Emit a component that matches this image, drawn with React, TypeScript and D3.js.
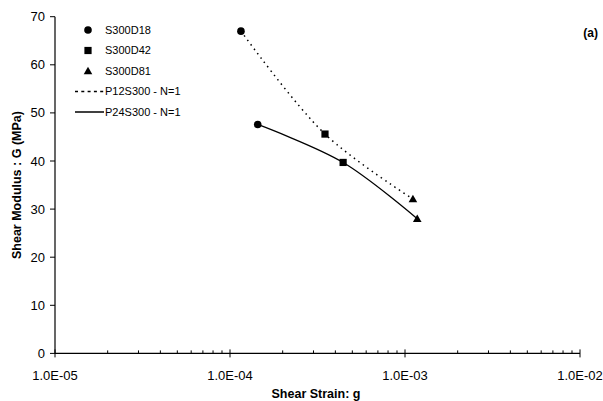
import React from "react";
import * as d3 from "d3";

// Shear strain (x) and shear modulus G in MPa (y)
const seriesNames = ["S300D18", "S300D42", "S300D81"];
const markerShapes = ["circle", "square", "triangle"];

const p12Strain = [1.155e-4, 3.49e-4, 1.11e-3];
const p12Modulus = [67.0, 45.6, 32.1];

const p24Strain = [1.44e-4, 4.43e-4, 1.175e-3];
const p24Modulus = [47.6, 39.7, 28.0];

const lineNames = ["P12S300 - N=1", "P24S300 - N=1"];

const xTickValues = [1e-5, 1e-4, 1e-3, 1e-2];
const xTickLabels = ["1.0E-05", "1.0E-04", "1.0E-03", "1.0E-02"];
const yTickValues = [0, 10, 20, 30, 40, 50, 60, 70];

const W = 603;
const H = 401;
const margin = { left: 55, right: 23, top: 16.7, bottom: 47.6 };

const font = "Liberation Sans, Arial, sans-serif";

function Marker({ shape, x, y }: { shape: string; x: number; y: number }) {
  if (shape === "circle") return <circle cx={x} cy={y} r={3.8} fill="#000" />;
  if (shape === "square")
    return <rect x={x - 3.6} y={y - 3.6} width={7.2} height={7.2} fill="#000" />;
  const s = 4.3;
  return (
    <path
      d={`M${x},${y - s} L${x + s},${y + s * 0.75} L${x - s},${y + s * 0.75} Z`}
      fill="#000"
    />
  );
}

export default function App() {
  const x = d3
    .scaleLog()
    .domain([1e-5, 1e-2])
    .range([margin.left, W - margin.right]);
  const y = d3
    .scaleLinear()
    .domain([0, 70])
    .range([H - margin.bottom, margin.top]);

  const line = d3
    .line<[number, number]>()
    .x((d) => x(d[0]))
    .y((d) => y(d[1]))
    .curve(d3.curveCatmullRom.alpha(0.5));

  const p12: [number, number][] = p12Strain.map((s, i) => [s, p12Modulus[i]]);
  const p24: [number, number][] = p24Strain.map((s, i) => [s, p24Modulus[i]]);

  const y0 = y(0);
  const minorTicks: number[] = [];
  for (let e = -5; e < -2; e++) {
    for (let k = 2; k <= 9; k++) minorTicks.push(k * Math.pow(10, e));
  }

  const legendX = 88;
  const legendRows = [30, 50.5, 71, 91.5, 112];

  return (
    <svg
      width={W}
      height={H}
      style={{ position: "absolute", left: 0, top: 0, background: "#fff" }}
      fontFamily={font}
    >
      {/* axes */}
      <line x1={margin.left} x2={margin.left} y1={y(70)} y2={y0} stroke="#000" strokeWidth={1.2} />
      <line x1={margin.left} x2={x(1e-2)} y1={y0} y2={y0} stroke="#000" strokeWidth={1.2} />

      {yTickValues.map((v) => (
        <g key={v}>
          <line x1={margin.left - 5} x2={margin.left} y1={y(v)} y2={y(v)} stroke="#000" />
          <text x={margin.left - 10} y={y(v)} dy="0.35em" textAnchor="end" fontSize={13}>
            {v}
          </text>
        </g>
      ))}

      {minorTicks.map((v) => (
        <line key={v} x1={x(v)} x2={x(v)} y1={y0 - 3} y2={y0} stroke="#000" />
      ))}
      {xTickValues.map((v, i) => (
        <g key={v}>
          <line x1={x(v)} x2={x(v)} y1={y0 - 4} y2={y0 + 4} stroke="#000" />
          <text x={x(v)} y={y0 + 26.5} textAnchor="middle" fontSize={13}>
            {xTickLabels[i]}
          </text>
        </g>
      ))}

      {/* axis titles */}
      <text x={316} y={397.5} textAnchor="middle" fontSize={12.5} fontWeight="bold">
        Shear Strain: g
      </text>
      <text
        transform={`translate(21,${(y(70) + y0) / 2}) rotate(-90)`}
        textAnchor="middle"
        fontSize={12.5}
        fontWeight="bold"
      >
        Shear Modulus : G (MPa)
      </text>
      <text x={598} y={37} textAnchor="end" fontSize={12} fontWeight="bold">
        (a)
      </text>

      {/* lines */}
      <path d={line(p12) || ""} fill="none" stroke="#000" strokeWidth={1.5} strokeDasharray="1.5,4" />
      <path d={line(p24) || ""} fill="none" stroke="#000" strokeWidth={1.3} />

      {/* markers */}
      {p12.map((d, i) => (
        <Marker key={"a" + i} shape={markerShapes[i]} x={x(d[0])} y={y(d[1])} />
      ))}
      {p24.map((d, i) => (
        <Marker key={"b" + i} shape={markerShapes[i]} x={x(d[0])} y={y(d[1])} />
      ))}

      {/* legend */}
      {seriesNames.map((n, i) => (
        <g key={n}>
          <Marker shape={markerShapes[i]} x={legendX} y={legendRows[i]} />
          <text x={105} y={legendRows[i]} dy="0.35em" fontSize={11}>
            {n}
          </text>
        </g>
      ))}
      {lineNames.map((n, i) => (
        <g key={n}>
          <line
            x1={75}
            x2={104}
            y1={legendRows[3 + i]}
            y2={legendRows[3 + i]}
            stroke="#000"
            strokeWidth={1.5}
            strokeDasharray={i === 0 ? "3,3.3" : undefined}
          />
          <text x={105} y={legendRows[3 + i]} dy="0.35em" fontSize={11}>
            {n}
          </text>
        </g>
      ))}
    </svg>
  );
}
